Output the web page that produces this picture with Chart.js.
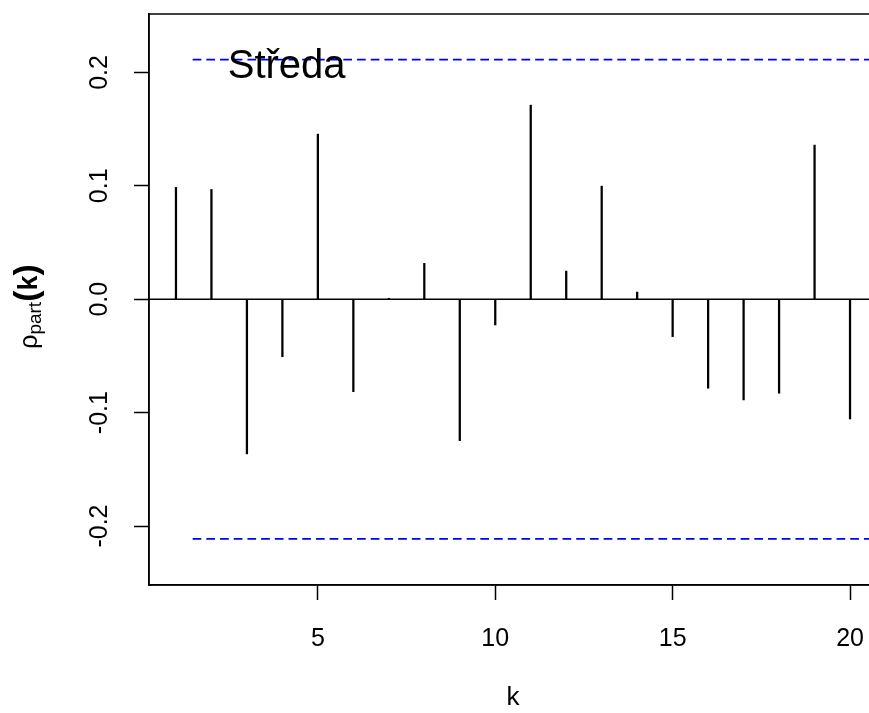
<!DOCTYPE html>
<html>
<head>
<meta charset="utf-8">
<script src="https://cdn.jsdelivr.net/npm/chart.js@4.4.1/dist/chart.umd.min.js"></script>
<style>
  html, body { margin: 0; padding: 0; background: #fff; }
  #wrap { width: 869px; height: 713px; overflow: hidden; position: relative; }
  #c { display: block; }
</style>
</head>
<body>
<div id="wrap"><canvas id="c" width="890" height="713"></canvas></div>
<script>
// Partial autocorrelation of the Wednesday series, lags 1..20
const lags = [1, 2, 3, 4, 5, 6, 7, 8, 9, 10, 11, 12, 13, 14, 15, 16, 17, 18, 19, 20];
const pacf = [0.0986, 0.0968, -0.1364, -0.0507, 0.1456, -0.0815, 0.0008, 0.0316, -0.1247, -0.0227,
              0.1711, 0.0248, 0.0997, 0.0063, -0.0330, -0.0785, -0.0888, -0.0829, 0.1359, -0.1056];
// approximate 95% significance bound
const ciBound = 0.2113;
const ciFrom = 1.47;
const ciTo = 21;

const xTicks = [5, 10, 15, 20];
const yTicks = [-0.2, -0.1, 0.0, 0.1, 0.2];
const xRange = [0.24, 20.76];
const yRange = [-0.252, 0.2515];

const panelTitle = 'Středa';
const panelTitleAt = { x: 4.12, y: 0.2045 };
const xTitle = 'k';

const FONT = '"Liberation Sans", Arial, Helvetica, sans-serif';
const TICK_SIZE = 25;

// draws the plot frame, the panel heading and the y-axis label (rho with subscript)
const decor = {
  id: 'decor',
  afterDraw(chart) {
    const { ctx, chartArea: a, scales } = chart;
    ctx.save();
    ctx.strokeStyle = '#000';
    ctx.lineWidth = 1.5;
    ctx.strokeRect(a.left, a.top, a.right - a.left, a.bottom - a.top);

    ctx.fillStyle = '#000';
    ctx.font = '40px ' + FONT;
    ctx.textAlign = 'center';
    ctx.textBaseline = 'middle';
    ctx.fillText(panelTitle, scales.x.getPixelForValue(panelTitleAt.x), scales.y.getPixelForValue(panelTitleAt.y));

    // y-axis label:  ρ_part(k)
    const parts = [
      { t: 'ρ', f: '25px ' + FONT, dy: 0 },
      { t: 'part', f: '19px ' + FONT, dy: 4 },
      { t: '(', f: 'bold 34px ' + FONT, dy: 0 },
      { t: 'k', f: 'bold 27px ' + FONT, dy: 0 },
      { t: ')', f: 'bold 34px ' + FONT, dy: 0 }
    ];
    let total = 0;
    parts.forEach(p => { ctx.font = p.f; p.w = ctx.measureText(p.t).width; total += p.w; });
    const cy = (a.top + a.bottom) / 2 + 7;
    ctx.translate(37, cy);
    ctx.rotate(-Math.PI / 2);
    ctx.textAlign = 'left';
    ctx.textBaseline = 'alphabetic';
    let x = -total / 2;
    parts.forEach(p => { ctx.font = p.f; ctx.fillText(p.t, x, p.dy); x += p.w; });
    ctx.restore();
  }
};

const bars = lags.map((k, i) => ({ x: k, y: pacf[i] }));

new Chart(document.getElementById('c'), {
  type: 'bar',
  data: {
    datasets: [
      {
        type: 'line',
        data: [{ x: xRange[0], y: 0 }, { x: xRange[1], y: 0 }],
        borderColor: '#000', borderWidth: 1.5, pointRadius: 0, order: 2
      },
      {
        type: 'line',
        data: [{ x: ciFrom, y: ciBound }, { x: ciTo, y: ciBound }],
        borderColor: '#0000ff', borderWidth: 1.6, borderDash: [8.7, 5], pointRadius: 0, order: 1
      },
      {
        type: 'line',
        data: [{ x: ciFrom, y: -ciBound }, { x: ciTo, y: -ciBound }],
        borderColor: '#0000ff', borderWidth: 1.6, borderDash: [8.7, 5], pointRadius: 0, order: 1
      },
      {
        type: 'bar',
        data: bars,
        backgroundColor: '#000', borderWidth: 0, barThickness: 1.6, order: 0
      }
    ]
  },
  options: {
    responsive: false,
    animation: false,
    devicePixelRatio: 1,
    layout: { padding: { left: 0, top: 14, right: 13, bottom: 0 } },
    plugins: { legend: { display: false }, tooltip: { enabled: false } },
    scales: {
      x: {
        type: 'linear',
        position: 'bottom',
        offset: false,
        min: xRange[0], max: xRange[1],
        afterBuildTicks: s => { s.ticks = xTicks.map(v => ({ value: v })); },
        afterFit: s => { s.height = 128; s.paddingLeft = 0; s.paddingRight = 0; },
        grid: { offset: false, drawOnChartArea: false, drawTicks: true, tickLength: 15, tickColor: '#000', tickWidth: 1.5 },
        border: { display: true, color: '#000', width: 1.5 },
        ticks: { color: '#000', font: { family: FONT, size: TICK_SIZE }, padding: 24, maxRotation: 0, autoSkip: false },
        title: { display: true, text: xTitle, color: '#000', font: { family: FONT, size: 26 }, padding: { top: 0, bottom: 0 } }
      },
      y: {
        type: 'linear',
        position: 'left',
        min: yRange[0], max: yRange[1],
        afterBuildTicks: s => { s.ticks = yTicks.map(v => ({ value: v })); },
        afterFit: s => { s.width = 149; s.paddingTop = 0; s.paddingBottom = 0; },
        grid: { drawOnChartArea: false, drawTicks: true, tickLength: 15, tickColor: '#000', tickWidth: 1.5 },
        border: { display: true, color: '#000', width: 1.5 },
        ticks: {
          color: '#000', font: { family: FONT, size: TICK_SIZE }, padding: 12,
          minRotation: 90, maxRotation: 90, crossAlign: 'center', autoSkip: false,
          callback: v => v.toFixed(1)
        }
      }
    }
  },
  plugins: [decor]
});
</script>
</body>
</html>
